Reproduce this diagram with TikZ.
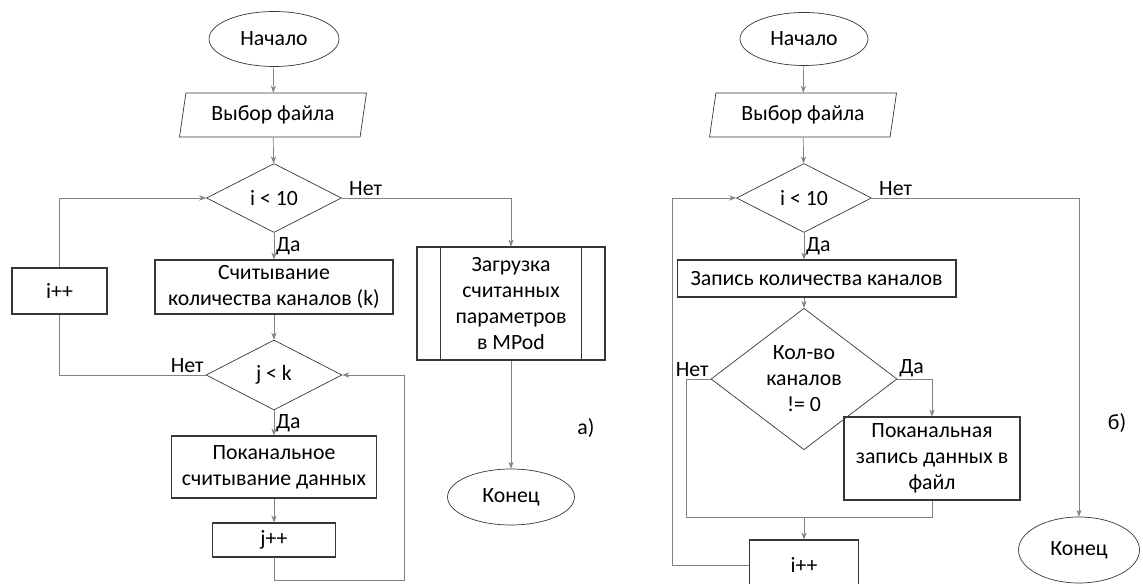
\documentclass[tikz,border=0pt]{standalone}
\usepackage{fontspec}
\setmainfont{Carlito}
\usetikzlibrary{arrows.meta,positioning,shapes.geometric,calc}
\definecolor{fcline}{RGB}{55,55,55}
\definecolor{fcwire}{RGB}{130,130,130}
\newcommand\fcfont{\fontsize{12.4}{14.8}\selectfont}

\begin{document}
\begin{tikzpicture}[x=0.02cm, y=-0.02cm,
  termnode/.style={ellipse, draw=fcline, thin, inner sep=0pt, font=\fcfont},
  iobox/.style={trapezium, trapezium left angle=78, trapezium right angle=102,
    trapezium stretches body, draw=fcline, thin,
    minimum width=3.74cm, minimum height=0.88cm, font=\fcfont},
  procbox/.style={rectangle, draw=fcline, semithick, align=center,
    inner sep=1pt, font=\fcfont},
  decision/.style={diamond, draw=fcline, thin, inner sep=0pt,
    align=center, font=\fcfont},
  conn/.style={-{Stealth[length=4pt,width=3pt]}, draw=fcwire, thin},
  wire/.style={draw=fcwire, thin},
  lbl/.style={font=\fcfont, inner sep=1pt}
]
\useasboundingbox (0,0) rectangle (1143,584);

% a)
\node[termnode, minimum width=2.6cm, minimum height=1.1cm] (startL) at (274,39) {Начало};
\node[iobox] (fileL) at (273,115) {Выбор файла};
\node[decision, minimum width=2.7cm, minimum height=1.38cm] (loopL) at (274,198) {i < 10};
\node[procbox, minimum width=4.76cm, minimum height=1.08cm] (readL) at (274,287)
  {Считывание\\количества каналов (k)};
\node[procbox, minimum width=1.9cm, minimum height=0.92cm] (incI) at (59.5,291) {i++};
\node[decision, minimum width=2.72cm, minimum height=1.4cm] (jL) at (274,375) {j < k};
\node[procbox, minimum width=4.1cm, minimum height=1.24cm] (dataL) at (274,467)
  {Поканальное\\считывание данных};
\node[procbox, minimum width=2.46cm, minimum height=0.68cm] (incJ) at (274,540) {j++};
\node[procbox, minimum width=3.76cm, minimum height=2.26cm] (mpod) at (511,303.5)
  {Загрузка\\считанных\\параметров\\в MPod};
\draw[fcline, semithick] ([xshift=0.48cm]mpod.north west) -- ([xshift=0.48cm]mpod.south west)
  ([xshift=-0.48cm]mpod.north east) -- ([xshift=-0.48cm]mpod.south east);
\node[termnode, minimum width=2.54cm, minimum height=1.12cm] (endL) at (511,497) {Конец};
\node[lbl] (capA) at (586,428) {а)};

\coordinate (backJ) at (404,580);

\draw[conn] (startL) -- (fileL);
\draw[conn] (fileL) -- (loopL);
\draw[conn] (loopL) -- node[lbl, right]{Да} (readL);
\draw[conn] (loopL.east) node[lbl, anchor=south west, xshift=3pt]{Нет} -| (mpod.north);
\draw[conn] (readL) -- (jL);
\draw[conn] (jL) -- node[lbl, right]{Да} (dataL);
\draw[conn] (dataL) -- (incJ);
\draw[conn] (incJ.south) |- (backJ) |- (jL.east);
\draw[wire] (jL.west) node[lbl, anchor=south east]{Нет} -| (incI.south);
\draw[conn] (incI.north) |- (loopL.west);
\draw[conn] (mpod) -- (endL);

% b)
\node[termnode, minimum width=2.56cm, minimum height=1.06cm] (startR) at (804,39) {Начало};
\node[iobox] (fileR) at (803,115) {Выбор файла};
\node[decision, minimum width=2.7cm, minimum height=1.38cm] (loopR) at (804,198) {i < 10};
\node[procbox, minimum width=5.58cm, minimum height=0.74cm] (countR) at (816.5,278.5)
  {Запись количества каналов};
\node[decision, minimum width=3.72cm, minimum height=2.24cm] (kolR) at (804,379)
  {Кол-во\\каналов\\!= 0};
\node[procbox, minimum width=3.52cm, minimum height=1.66cm] (dataR) at (932,458.5)
  {Поканальная\\запись данных в\\файл};
\node[procbox, minimum width=2.18cm, minimum height=1.0cm] (incR) at (804,565) {i++};
\node[termnode, minimum width=2.42cm, minimum height=1.32cm] (endR) at (1079,550) {Конец};
\node[lbl] (capB) at (1117,423) {б)};

\coordinate (joinR) at (686,517);
\coordinate (backR) at (672,565);

\draw[conn] (startR) -- (fileR);
\draw[conn] (fileR) -- (loopR);
\draw[conn] (loopR.south) -- node[lbl, right]{Да} (loopR.south |- countR.north);
\draw[conn] (loopR.south |- countR.south) -- (kolR.north);
\draw[conn] (loopR.east) node[lbl, anchor=south west, xshift=3pt]{Нет} -| (endR.north);
\draw[conn] (kolR.east) node[lbl, anchor=south west]{Да} -| (dataR.north);
\draw[wire] (kolR.west) node[lbl, anchor=south east]{Нет} -| (joinR)
  -- (dataR.south |- joinR) -- (dataR.south);
\draw[conn] (incR.north |- joinR) -- (incR.north);
\draw[conn] (incR.west) -- (backR) |- (loopR.west);
\end{tikzpicture}
\end{document}
